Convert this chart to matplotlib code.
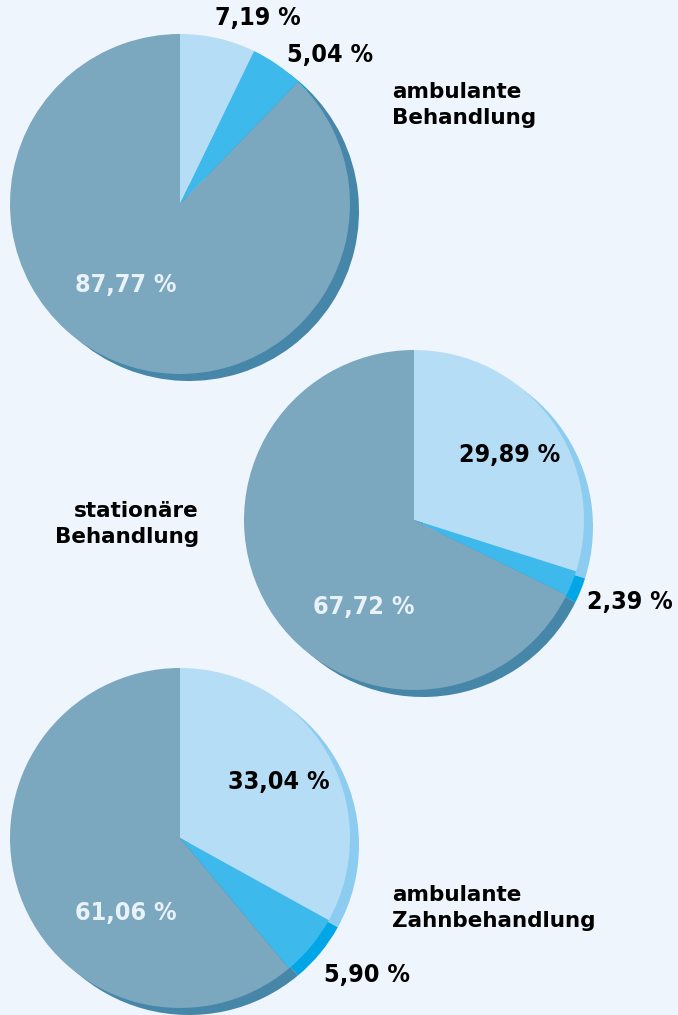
import matplotlib.pyplot as plt

# shares per treatment type, clockwise from 12 o'clock
amb_values = [7.19, 5.04, 87.77]
stat_values = [29.89, 2.39, 67.72]
zahn_values = [33.04, 5.90, 61.06]

value_labels = {
    "amb": ["7,19 %", "5,04 %", "87,77 %"],
    "stat": ["29,89 %", "2,39 %", "67,72 %"],
    "zahn": ["33,04 %", "5,90 %", "61,06 %"],
}

BG = "#EEF5FC"
FACE = ["#B5DDF5", "#3DB9EC", "#7BA7BF"]
SIDE = ["#8CCCF0", "#00A6E6", "#4686A8"]

W, H = 678, 1015
fig = plt.figure(figsize=(W / 100, H / 100), dpi=100, facecolor=BG)
ax = fig.add_axes([0, 0, 1, 1])

R = 170
DX, DY = 9, -7


def draw_pie(values, cx, cy):
    # darker copy shifted down-right gives the disc some depth
    ax.pie(values, colors=SIDE, startangle=90, counterclock=False,
           center=(cx + DX, cy + DY), radius=R, frame=True,
           wedgeprops=dict(linewidth=0))
    ax.pie(values, colors=FACE, startangle=90, counterclock=False,
           center=(cx, cy), radius=R, frame=True,
           wedgeprops=dict(linewidth=0))


draw_pie(amb_values, 180, H - 204)
draw_pie(stat_values, 414, H - 520)
draw_pie(zahn_values, 180, H - 838)

ax.set_xlim(0, W)
ax.set_ylim(0, H)
ax.set_aspect("equal")
ax.axis("off")

num = dict(family="DejaVu Sans", stretch="condensed", weight="bold",
           fontsize=18, ha="center", va="center")
light = "#E9F2F8"


def put(x, y, s, color="black"):
    ax.text(x, H - y, s, color=color, **num)


put(258, 18, value_labels["amb"][0])
put(330, 55, value_labels["amb"][1])
put(126, 285, value_labels["amb"][2], light)

put(510, 455, value_labels["stat"][0])
put(630, 602, value_labels["stat"][1])
put(364, 607, value_labels["stat"][2], light)

put(279, 782, value_labels["zahn"][0])
put(367, 975, value_labels["zahn"][1])
put(126, 913, value_labels["zahn"][2], light)

cat = dict(family="DejaVu Sans", weight="bold", fontsize=15.5,
           va="center", linespacing=1.35)
ax.text(392, H - 105, "ambulante\nBehandlung", ha="left", **cat)
ax.text(199, H - 524, "stationäre\nBehandlung", ha="right", multialignment="right", **cat)
ax.text(392, H - 908, "ambulante\nZahnbehandlung", ha="left", **cat)

fig.savefig("out.png", dpi=100, facecolor=BG)
